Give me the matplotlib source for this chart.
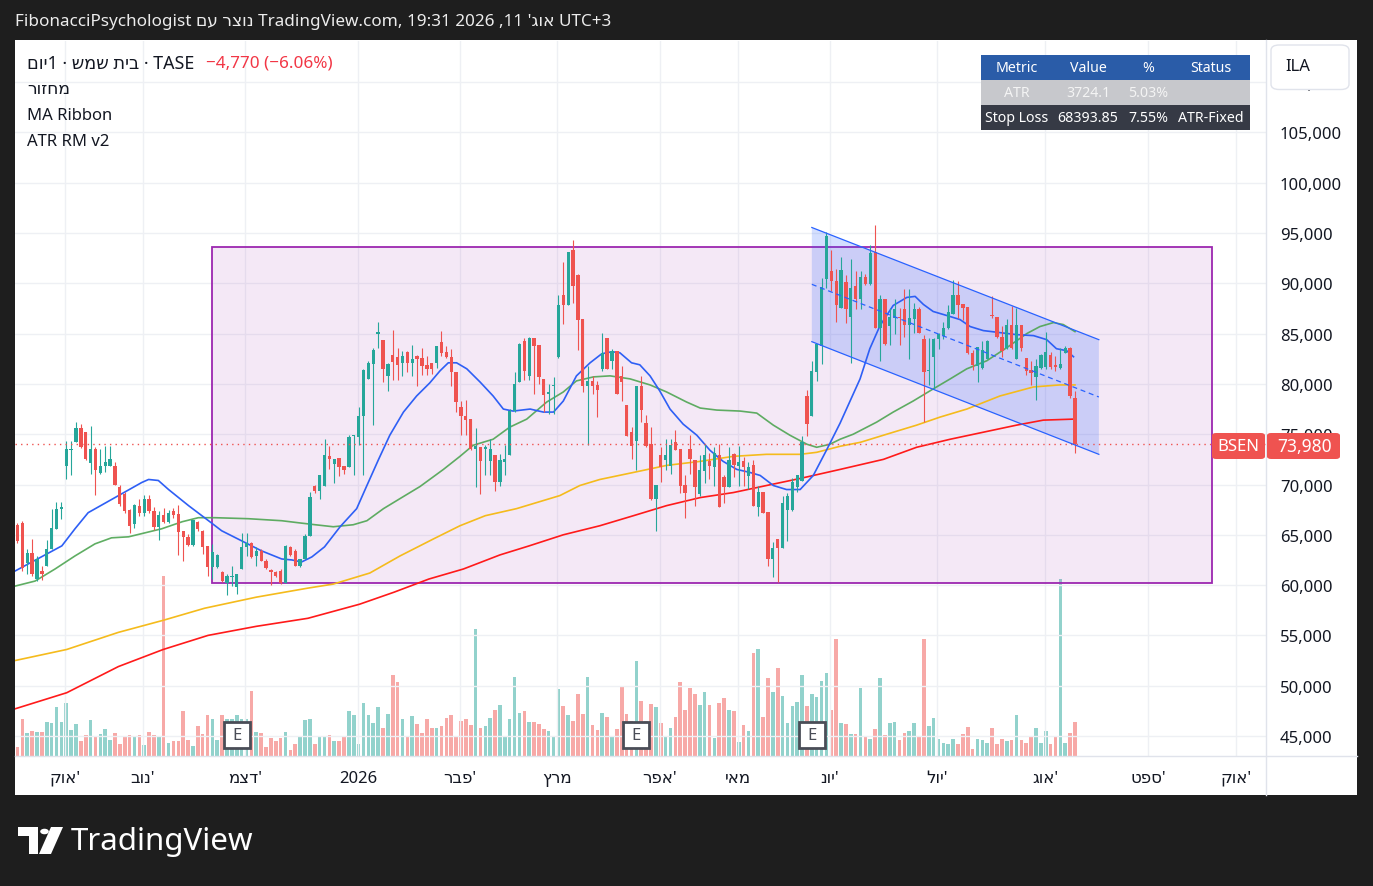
import matplotlib
matplotlib.use("Agg")
import matplotlib.pyplot as plt
import matplotlib.transforms as mtransforms
from matplotlib.patches import Rectangle, FancyBboxPatch, Polygon, Circle
from matplotlib.lines import Line2D
import numpy as np

FONT = ["Noto Sans", "DejaVu Sans"]
plt.rcParams["font.family"] = FONT

W, H, DPI = 1373, 887, 100

# daily candles, price in thousands
opens = [66.0, 66.2, 62.2, 63.2, 60.6, 61.4, 61.9, 63.6, 65.6, 67.6,
         71.8, 73.4, 74.2, 75.6, 75.2, 72.1, 73.5, 71.1, 71.8, 71.8,
         71.8, 69.8, 69.1, 67.5, 66.1, 67.9, 67.2, 68.6, 67.4, 65.8,
         67.0, 66.3, 67.4, 67.1, 65.4, 64.8, 64.0, 66.3, 65.4, 63.9,
         61.8, 61.8, 61.3, 60.2, 60.8, 59.8, 61.6, 63.8, 64.2, 62.9,
         63.4, 62.4, 61.5, 61.3, 61.4, 60.2, 63.8, 63.4, 61.9, 62.6,
         64.9, 69.9, 69.4, 69.9, 72.8, 72.0, 72.6, 71.8, 71.7, 74.8,
         74.7, 76.8, 80.5, 82.0, 85.0, 84.4, 80.8, 82.9, 82.7, 82.1,
         83.2, 82.1, 82.8, 82.6, 81.9, 82.1, 82.1, 84.2, 83.2, 82.7,
         81.2, 77.7, 76.8, 76.5, 73.5, 73.7, 73.5, 72.3, 72.9, 70.2,
         72.2, 72.9, 77.3, 80.2, 84.3, 80.8, 84.6, 83.9, 80.5, 79.0,
         79.8, 82.7, 88.8, 87.8, 93.3, 90.8, 86.5, 79.8, 80.3, 79.9,
         81.5, 84.6, 82.3, 83.3, 80.8, 77.9, 75.2, 74.3, 79.8, 76.1,
         74.0, 68.6, 72.9, 72.4, 71.8, 74.2, 73.5, 70.0, 73.5, 72.4,
         69.1, 71.3, 72.3, 71.7, 72.9, 70.7, 69.8, 73.0, 71.8, 72.3,
         70.8, 71.9, 67.8, 69.3, 67.3, 62.6, 64.6, 63.7, 67.5, 67.5,
         69.8, 70.3, 78.8, 76.8, 81.2, 83.8, 90.4, 91.2, 90.2, 87.5,
         90.1, 86.7, 89.7, 88.4, 90.6, 89.9, 93.1, 85.6, 88.4, 85.8,
         86.6, 86.7, 87.4, 85.9, 86.5, 87.4, 84.5, 81.3, 82.7, 84.5,
         84.8, 85.6, 87.0, 88.8, 87.9, 87.6, 83.1, 81.8, 81.6, 82.5,
         86.9, 86.7, 84.7, 83.6, 85.9, 82.5, 85.9, 82.6, 81.4, 80.7,
         81.6, 81.7, 82.9, 81.9, 81.6, 83.1, 83.6, 78.6]
highs = [66.2, 66.4, 63.6, 64.6, 62.9, 61.9, 64.5, 67.6, 68.3, 68.3,
         74.3, 74.3, 76.2, 76.0, 75.2, 75.8, 73.7, 73.5, 73.8, 73.8,
         72.2, 70.0, 69.3, 67.6, 68.1, 68.6, 69.0, 69.0, 67.8, 67.4,
         67.7, 67.5, 67.7, 68.0, 65.4, 65.1, 66.5, 66.4, 65.5, 63.9,
         64.1, 63.1, 61.4, 61.1, 61.9, 61.1, 65.2, 65.2, 64.3, 63.8,
         63.6, 62.6, 61.6, 61.4, 61.6, 64.0, 63.9, 63.6, 62.6, 65.1,
         69.3, 70.0, 70.9, 74.5, 73.8, 72.5, 72.6, 71.8, 74.9, 74.9,
         77.7, 81.5, 82.3, 83.6, 86.2, 84.4, 82.1, 85.4, 83.6, 83.3,
         83.3, 83.9, 82.9, 83.6, 82.8, 82.1, 83.8, 85.3, 83.8, 83.5,
         81.2, 78.3, 78.4, 76.5, 75.6, 73.7, 73.9, 74.5, 72.9, 73.0,
         73.9, 77.5, 81.2, 84.1, 84.6, 84.7, 84.6, 83.9, 80.5, 80.0,
         80.7, 88.8, 92.1, 93.1, 94.3, 90.9, 86.5, 81.8, 80.8, 80.3,
         85.1, 84.6, 83.5, 83.3, 81.8, 77.9, 75.7, 79.8, 80.8, 76.9,
         75.7, 70.0, 73.7, 74.5, 74.5, 75.4, 73.5, 70.9, 74.9, 72.4,
         72.9, 74.0, 73.1, 73.7, 74.0, 70.9, 73.7, 73.1, 73.8, 72.7,
         72.2, 72.4, 69.9, 69.3, 67.3, 64.3, 64.6, 68.9, 69.2, 70.6,
         70.9, 74.8, 79.4, 82.3, 84.0, 90.5, 95.1, 93.3, 91.4, 92.6,
         90.8, 92.4, 91.2, 91.2, 90.9, 93.8, 95.8, 88.8, 88.4, 87.5,
         88.4, 87.5, 89.4, 89.4, 88.0, 87.6, 84.9, 84.6, 84.6, 85.1,
         86.2, 87.8, 90.3, 90.2, 87.9, 87.6, 83.4, 83.7, 84.3, 84.4,
         88.7, 86.7, 85.8, 86.5, 87.7, 87.5, 85.9, 82.6, 82.3, 82.5,
         83.0, 85.2, 83.2, 82.8, 83.6, 83.8, 83.7, 79.3]
lows = [64.2, 61.4, 61.1, 60.9, 60.4, 60.5, 61.9, 63.6, 65.6, 66.6,
        70.5, 70.9, 74.2, 73.6, 72.4, 71.0, 69.0, 71.0, 71.2, 71.8,
        70.0, 67.9, 67.2, 65.2, 65.7, 66.9, 66.9, 67.2, 65.5, 64.5,
        66.2, 66.2, 66.7, 63.0, 62.4, 63.9, 63.9, 65.4, 63.1, 60.9,
        60.6, 61.7, 60.3, 59.0, 59.9, 59.1, 61.6, 62.9, 62.7, 61.9,
        62.4, 61.6, 60.0, 60.8, 60.1, 60.2, 62.9, 61.9, 61.8, 62.6,
        64.9, 69.2, 68.6, 69.9, 71.5, 70.1, 70.8, 71.0, 71.7, 70.9,
        73.9, 70.9, 80.5, 75.9, 83.6, 80.2, 79.3, 80.4, 80.4, 80.8,
        81.2, 80.8, 79.8, 80.9, 80.9, 81.0, 81.6, 82.8, 82.6, 79.8,
        77.2, 74.9, 74.9, 73.4, 69.8, 69.1, 70.9, 70.9, 69.4, 69.9,
        70.9, 72.9, 77.2, 80.2, 80.4, 80.4, 79.0, 80.0, 77.2, 77.0,
        77.0, 82.6, 86.0, 87.8, 88.0, 83.4, 79.2, 73.9, 79.0, 76.7,
        81.3, 81.5, 81.5, 79.0, 78.3, 74.8, 72.5, 71.4, 76.2, 73.7,
        68.5, 65.4, 70.2, 71.4, 71.0, 73.4, 69.2, 66.7, 71.0, 67.9,
        68.9, 70.1, 70.5, 69.9, 67.8, 68.2, 69.8, 70.7, 69.9, 69.9,
        69.6, 67.9, 66.9, 67.2, 61.9, 60.8, 60.3, 63.7, 64.4, 67.4,
        69.3, 70.3, 74.8, 76.8, 80.3, 82.0, 89.5, 89.2, 86.2, 87.5,
        86.1, 82.1, 87.4, 87.4, 89.8, 89.8, 85.6, 82.3, 83.9, 83.9,
        85.0, 83.9, 84.7, 82.5, 85.1, 85.1, 76.2, 79.9, 79.5, 83.5,
        84.5, 85.5, 87.0, 86.6, 86.4, 83.0, 81.4, 80.2, 81.5, 82.5,
        86.6, 84.6, 82.7, 83.5, 83.5, 82.5, 83.3, 80.9, 79.9, 78.4,
        81.5, 81.5, 81.5, 81.3, 81.5, 83.1, 78.6, 73.1]
closes = [64.4, 61.7, 63.2, 61.1, 62.6, 61.1, 63.6, 65.7, 67.6, 67.8,
          73.5, 73.5, 75.6, 73.7, 72.5, 73.5, 71.4, 71.8, 72.2, 72.5,
          70.0, 68.1, 67.4, 65.9, 68.0, 67.2, 68.6, 67.4, 65.8, 67.0,
          66.3, 67.2, 67.0, 65.3, 64.8, 64.0, 66.5, 65.6, 63.8, 61.8,
          63.3, 63.0, 60.4, 60.9, 60.9, 61.1, 63.8, 64.2, 62.8, 63.4,
          62.4, 61.7, 61.3, 60.9, 60.2, 63.9, 63.0, 61.9, 62.6, 64.9,
          68.8, 69.4, 70.9, 72.9, 72.5, 72.5, 71.7, 71.4, 74.7, 74.9,
          76.8, 81.4, 82.1, 83.4, 85.2, 81.5, 82.0, 82.2, 81.9, 82.8,
          82.1, 82.5, 82.5, 81.8, 81.5, 81.5, 83.8, 83.1, 82.7, 81.2,
          78.2, 76.8, 76.4, 73.5, 73.8, 72.3, 73.7, 73.5, 70.2, 72.4,
          72.5, 77.3, 80.0, 84.0, 81.3, 84.6, 83.8, 80.7, 78.9, 79.2,
          79.9, 87.8, 87.8, 93.1, 89.7, 86.4, 79.8, 80.3, 79.8, 79.4,
          83.1, 81.5, 83.3, 79.0, 80.2, 74.8, 73.8, 79.8, 77.4, 73.8,
          68.6, 70.0, 71.7, 72.9, 73.9, 73.4, 69.9, 69.2, 72.5, 69.8,
          71.4, 72.9, 71.8, 73.1, 67.8, 69.8, 72.4, 71.9, 72.2, 71.7,
          71.7, 67.9, 69.3, 67.2, 62.6, 63.7, 63.7, 68.2, 68.9, 70.2,
          70.9, 74.2, 76.0, 81.3, 84.0, 89.6, 94.7, 90.2, 87.8, 91.3,
          87.4, 89.5, 88.4, 90.6, 89.9, 93.0, 85.6, 88.4, 84.0, 86.7,
          87.4, 86.6, 85.9, 86.6, 87.4, 85.1, 81.2, 81.4, 84.5, 85.0,
          85.6, 87.1, 88.8, 87.8, 87.5, 83.1, 81.9, 83.7, 83.4, 84.3,
          86.8, 84.7, 83.3, 85.9, 83.6, 85.9, 83.6, 81.3, 81.1, 81.8,
          82.9, 83.2, 81.7, 81.7, 82.0, 83.6, 78.75, 73.98]
volumes = [90, 367, 227, 250, 240, 240, 340, 323, 480, 340,
           520, 260, 320, 150, 210, 360, 190, 217, 270, 160,
           230, 120, 190, 210, 190, 210, 110, 240, 210, 200,
           1783, 130, 150, 150, 440, 160, 100, 300, 220, 410,
           370, 160, 410, 370, 370, 410, 370, 370, 640, 240,
           227, 93, 180, 150, 180, 240, 60, 120, 190, 360,
           370, 120, 200, 200, 210, 150, 150, 200, 440, 410,
           120, 520, 410, 330, 480, 280, 420, 800, 730, 370,
           200, 400, 320, 230, 370, 280, 280, 300, 380, 410,
           200, 350, 370, 310, 1260, 280, 300, 380, 450, 500,
           200, 370, 780, 430, 440, 340, 340, 320, 270, 250,
           200, 660, 490, 410, 350, 610, 420, 780, 310, 260,
           430, 390, 200, 270, 680, 420, 350, 940, 540, 350,
           510, 480, 330, 190, 280, 390, 730, 450, 670, 610,
           500, 630, 500, 180, 520, 570, 450, 440, 140, 310,
           250, 1020, 1060, 390, 770, 630, 870, 590, 330, 490,
           530, 800, 490, 610, 580, 740, 820, 450, 1160, 330,
           320, 220, 220, 670, 190, 170, 270, 770, 210, 330,
           340, 160, 230, 250, 330, 200, 1160, 300, 380, 170,
           130, 120, 170, 120, 220, 290, 70, 170, 160, 130,
           280, 120, 170, 150, 160, 410, 160, 130, 200, 280,
           130, 250, 120, 200, 1750, 130, 230, 340]

# MA Ribbon at bar positions
ma_fast_x = [-0.5, 9.1, 11.8, 14.5, 20.0, 25.5, 26.9, 28.9, 31.0, 35.1, 39.2, 41.9, 46.0, 50.1,
             54.2, 56.3, 58.3, 60.4, 63.0, 66.2, 69.6, 71.7, 74.1, 76.4, 79.2, 81.9, 84.6, 86.7,
             88.4, 90.1, 92.2, 94.9, 97.6, 99.7, 101.7, 105.2, 107.9, 110.0, 112.0, 114.7, 117.5,
             119.9, 122.0, 123.6, 126.0, 127.7, 129.8, 131.8, 133.9, 136.6, 139.4, 142.1, 144.8,
             147.6, 150.3, 152.4, 155.1, 157.8, 160.6, 163.3, 166.1, 168.8, 172.9, 174.9, 177.0,
             179.7, 182.5, 184.2, 185.9, 187.9, 190.7, 193.4, 195.5, 198.2, 201.6, 205.0, 208.5,
             211.2, 213.2, 215.3, 216.7]
ma_fast = [61.4, 63.9, 65.6, 67.2, 68.7, 70.2, 70.5, 70.4, 69.5, 67.9, 66.4, 65.4, 64.4, 63.4,
           62.6, 62.5, 62.3, 62.8, 63.8, 65.8, 67.6, 69.9, 72.5, 74.9, 77.2, 78.8, 80.1, 81.3,
           82.1, 82.1, 81.5, 80.2, 78.8, 77.5, 77.3, 77.5, 77.2, 77.2, 78.3, 80.8, 82.1,
           83.0, 83.2, 83.1, 82.1, 81.9, 80.8, 79.3, 77.5, 76.0, 74.9, 73.4, 72.3,
           71.5, 71.2, 70.9, 69.9, 69.5, 69.5, 70.9, 73.5, 76.1, 80.5, 83.5, 85.8,
           87.8, 88.6, 88.7, 87.9, 87.2, 86.8, 86.4, 85.7, 85.3, 85.1, 84.9, 84.8,
           84.4, 83.5, 83.3, 82.7]
ma_mid_x = [-0.5, 3.6, 7.7, 11.8, 15.9, 19.3, 22.8, 26.2, 29.6, 33.8, 37.1, 40.5, 47.4, 54.2,
            57.6, 61.1, 64.8, 68.9, 71.7, 75.1, 78.5, 82.6, 87.4, 90.8, 93.5, 97.6, 101.0, 104.5,
            108.6, 112.0, 114.7, 118.2, 121.6, 125.7, 129.8, 133.2, 137.3, 140.1, 143.5, 148.3,
            151.7, 155.1, 158.5, 162.0, 164.0, 166.7, 168.8, 171.5, 176.3, 179.7, 183.8, 187.9,
            191.4, 194.8, 198.9, 203.0, 207.1, 209.8, 212.6, 214.6, 217.0]
ma_mid = [59.9, 60.4, 61.6, 62.9, 64.1, 64.7, 64.8, 65.2, 65.6, 66.3, 66.7, 66.7, 66.6, 66.4,
          66.2, 66.0, 65.8, 66.0, 66.4, 67.6, 68.6, 69.8, 71.5, 72.8, 73.9, 74.5, 75.7, 76.5,
          78.2, 79.2, 80.3, 80.7, 80.8, 80.5, 79.9, 79.2, 78.2, 77.6, 77.4, 77.3,
          77.1, 75.9, 74.9, 74.0, 73.7, 74.0, 74.5, 75.0, 76.2, 77.2, 78.3, 79.5,
          80.5, 81.5, 82.3, 83.6, 85.0, 85.7, 86.1, 85.9, 85.2]
ma_slow_x = [-0.5, 10.1, 20.7, 29.9, 38.4, 49.0, 59.6, 64.8, 72.3, 78.5, 85.4, 90.8, 96.0, 102.4,
             111.3, 115.4, 119.5, 126.4, 133.2, 140.1, 146.9, 153.7, 160.6, 164.0, 168.8, 173.0,
             177.7, 184.5, 189.3, 194.8, 201.6, 208.5, 213.9, 217.0]
ma_slow = [52.5, 53.6, 55.3, 56.5, 57.7, 58.8, 59.7, 60.1, 61.2, 62.9, 64.6, 65.9, 66.9, 67.6,
           68.9, 69.9, 70.5, 71.2, 71.9, 72.3, 72.8, 73.0, 73.0, 73.2, 73.8, 74.2,
           74.9, 75.9, 76.7, 77.5, 78.8, 79.7, 79.9, 79.9]
ma_long_x = [-0.5, 10.1, 20.7, 29.9, 39.1, 49.0, 59.6, 70.2, 77.3, 84.4, 91.5, 99.0, 105.0, 112.0,
             119.5, 126.4, 133.2, 140.1, 146.9, 153.7, 160.6, 168.8, 177.7, 184.5, 191.4, 198.2,
             205.0, 210.5, 216.7]
ma_long = [47.7, 49.3, 51.9, 53.6, 55.0, 55.9, 56.7, 58.1, 59.3, 60.6, 61.6, 63.0, 63.9, 65.0,
           65.9, 66.9, 67.9, 68.7, 69.2, 69.9, 70.6, 71.5, 72.5, 73.7, 74.5, 75.2,
           75.9, 76.4, 76.5]

# drawings on the chart
range_box_x = [39.9, 245.1]
range_box_y = [60.2, 93.6]
channel_x = [163.0, 221.9]
channel_top = [95.55, 84.4]
channel_mid = [89.9, 78.7]
channel_bot = [84.2, 73.0]
earnings_bars = [45, 127, 163]

month_pos = [9.75, 25.75, 46.7, 69.9, 90.8, 110.7, 131.85, 147.85, 166.7, 188.7, 210.9, 232.0, 250.1]
month_names = ["אוק'", "נוב'", "דצמ'", "2026", "פבר'", "מרץ", "אפר'", "מאי", "יונ'", "יול'", "אוג'", "ספט'", "אוק'"]
price_ticks = list(range(45, 111, 5))

table_head = ["Metric", "Value", "%", "Status"]
table_atr = ["ATR", "3724.1", "5.03%", ""]
table_stop = ["Stop Loss", "68393.85", "7.55%", "ATR-Fixed"]


def visual(s):
    # matplotlib has no bidi: put Hebrew words in display order
    if any("\u0590" <= ch <= "\u05ff" for ch in s):
        if s.endswith("'"):
            return s[:-1][::-1] + "'"
        return s[::-1]
    return s


UP, DOWN = "#26a69a", "#ef5350"
TXT = "#131722"

fig = plt.figure(figsize=(W / DPI, H / DPI), dpi=DPI, facecolor="#1e1e1e")


def px_rect(x0, y0, x1, y1, **kw):
    r = Rectangle((x0 / W, 1 - y1 / H), (x1 - x0) / W, (y1 - y0) / H,
                  transform=fig.transFigure, **kw)
    fig.patches.append(r)
    return r


def px_text(x, y, s, **kw):
    return fig.text(x / W, 1 - y / H, s, **kw)


def px_line(x0, y0, x1, y1, **kw):
    fig.lines.append(Line2D([x0 / W, x1 / W], [1 - y0 / H, 1 - y1 / H],
                            transform=fig.transFigure, **kw))


# white chart panel
px_rect(15, 41, 1357, 796, facecolor="white", edgecolor="none", zorder=-5)

L, R, T, B = 15, 1266, 42, 757
pos = [L / W, 1 - B / H, (R - L) / W, (B - T) / H]
axv = fig.add_axes(pos, zorder=1)
ax = fig.add_axes(pos, zorder=2)
ax.patch.set_alpha(0)

n = len(closes)
x = np.arange(n)
o = np.array(opens)
c = np.array(closes)
hi = np.maximum.reduce([np.array(highs), o, c])
lo = np.minimum.reduce([np.array(lows), o, c])
up = c >= o
cols = np.where(up, UP, DOWN)

xlim = (-0.513, 256.2)

# volume
axv.set_xlim(*xlim)
axv.set_ylim(0, 7069)
axv.bar(x, volumes, width=0.74, color=np.where(up, "#92d2cc", "#f7a9a7"), linewidth=0)
axv.axis("off")

# price pane
ax.set_xlim(*xlim)
ax.set_ylim(43.01, 114.09)
for s in ax.spines.values():
    s.set_visible(False)
ax.set_xticks(month_pos)
ax.set_xticklabels([visual(m) for m in month_names])
ax.set_yticks(price_ticks)
ax.set_yticklabels([f"{t * 1000:,}" for t in price_ticks])
ax.yaxis.tick_right()
ax.tick_params(axis="y", length=0, pad=10, labelsize=12, labelcolor=TXT)
ax.tick_params(axis="x", length=0, pad=10, labelsize=12, labelcolor=TXT)
for lab in ax.get_xticklabels():
    if lab.get_text() == "2026":
        lab.set_fontweight("bold")
ax.grid(True, color="#eef0f4", lw=1)
ax.set_axisbelow(True)

ax.add_patch(Rectangle((range_box_x[0], range_box_y[0]), range_box_x[1] - range_box_x[0],
                       range_box_y[1] - range_box_y[0], facecolor="#9c27b0", alpha=0.1,
                       edgecolor="none", zorder=1))
ax.add_patch(Rectangle((range_box_x[0], range_box_y[0]), range_box_x[1] - range_box_x[0],
                       range_box_y[1] - range_box_y[0], facecolor="none",
                       edgecolor="#9c27b0", lw=1.3, zorder=1.1))

ax.add_patch(Polygon([(channel_x[0], channel_top[0]), (channel_x[1], channel_top[1]),
                      (channel_x[1], channel_bot[1]), (channel_x[0], channel_bot[0])],
                     closed=True, facecolor="#2962ff", alpha=0.2, edgecolor="none", zorder=1.5))
ax.plot(channel_x, channel_top, color="#2962ff", lw=0.9, zorder=5)
ax.plot(channel_x, channel_bot, color="#2962ff", lw=0.9, zorder=5)
ax.plot(channel_x, channel_mid, color="#2962ff", lw=0.9, ls=(0, (4, 3)), zorder=5)

ax.plot(ma_long_x, ma_long, color="#ff1a1a", lw=1.2, zorder=3)
ax.plot(ma_slow_x, ma_slow, color="#f5bb1c", lw=1.2, zorder=3)
ax.plot(ma_mid_x, ma_mid, color="#4ea552", lw=1.2, alpha=0.9, zorder=3)
ax.plot(ma_fast_x, ma_fast, color="#2e5ff5", lw=1.2, zorder=3)

ax.vlines(x, lo, hi, colors=cols, lw=0.8, zorder=4)
ax.bar(x, np.maximum(np.abs(c - o), 0.1), bottom=np.minimum(o, c), width=0.68,
       color=cols, linewidth=0, zorder=4)

ax.axhline(c[-1], color=DOWN, lw=1, ls=(0, (1, 3)), zorder=4.5)

# earnings badges
blend = mtransforms.blended_transform_factory(ax.transData, ax.transAxes)
for e in earnings_bars:
    ax.plot([e], [0.0294], transform=blend, marker="s", ms=19, mfc="white",
            mec="#4a4d57", mew=2.0, zorder=6, clip_on=False)
    ax.text(e, 0.0294, "E", transform=blend, ha="center", va="center", fontsize=12,
            fontweight="bold", color="#4a4d57", zorder=7)

# separators
px_line(1266, 41, 1266, 796, color="#e0e3eb", lw=1, zorder=3)
px_line(15, 757, 1357, 757, color="#e0e3eb", lw=1, zorder=3)

# currency box on price scale (hides most of the 110,000 label)
fig.patches.append(FancyBboxPatch((1271 / W, 1 - 90.5 / H), 78 / W, 44.5 / H,
                                  boxstyle="round,pad=0,rounding_size=0.006",
                                  transform=fig.transFigure, facecolor="white",
                                  edgecolor="#e0e3eb", lw=1, zorder=5))
px_text(1285, 67, "ILA", fontsize=12, color=TXT, va="center", zorder=6)

# last price labels
fig.patches.append(FancyBboxPatch((1212 / W, 1 - 460 / H), 53 / W, 26 / H,
                                  boxstyle="round,pad=0,rounding_size=0.003",
                                  transform=fig.transFigure, facecolor=DOWN,
                                  edgecolor="none", zorder=5))
fig.patches.append(FancyBboxPatch((1267 / W, 1 - 460 / H), 73 / W, 26 / H,
                                  boxstyle="round,pad=0,rounding_size=0.003",
                                  transform=fig.transFigure, facecolor=DOWN,
                                  edgecolor="none", zorder=5))
px_text(1238.5, 447, "BSEN", fontsize=12, color="white", ha="center", va="center", zorder=6)
px_text(1305, 447, f"{c[-1] * 1000:,.0f}", fontsize=12.5, color="white", ha="center",
        va="center", zorder=6)

# header
header = ("FibonacciPsychologist " + visual("עם") + " " + visual("נוצר")
          + " TradingView.com, 19:31 2026 ,11 '" + visual("אוג") + " UTC+3")
px_text(15, 22, header, fontsize=12.3, color="#ececec", va="center")

# legend
leg1 = visual("יום") + "1 · " + visual("שמש") + " " + visual("בית") + " · TASE"
t1 = px_text(27, 64, leg1, fontsize=12.8, color=TXT, va="center")
renderer = fig.canvas.get_renderer()
bb = t1.get_window_extent(renderer=renderer)
fig.text((bb.x1 + 12) / W, 1 - 64 / H, "\u22124,770 (\u22126.06%)", fontsize=12.3,
         color="#f23645", va="center")
px_text(27, 90, visual("מחזור"), fontsize=12.3, color=TXT, va="center")
px_text(27, 116, "MA Ribbon", fontsize=12, color=TXT, va="center")
px_text(27, 142, "ATR RM v2", fontsize=12, color=TXT, va="center")

# ATR table
col_edges = [981, 1052, 1124, 1172, 1250]
row_edges = [56, 81, 106, 131]
row_bg = ["#2a5ca8", "#c7c8cc", "#363a45"]
row_fg = ["white", "#f4f4f4", "white"]
for r, row in enumerate([table_head, table_atr, table_stop]):
    px_rect(col_edges[0], row_edges[r], col_edges[-1], row_edges[r + 1],
            facecolor=row_bg[r], edgecolor="none", zorder=5)
    for k, val in enumerate(row):
        cx = (col_edges[k] + col_edges[k + 1]) / 2
        cy = (row_edges[r] + row_edges[r + 1]) / 2
        px_text(cx, cy, val, fontsize=10.2, color=row_fg[r], ha="center", va="center",
                fontweight="bold" if r == 0 else "normal", zorder=6)

# TradingView logo
logo = [[(18, 828), (38, 828), (38, 855), (29, 855), (29, 837), (18, 837)],
        [(51, 828), (63, 828), (51, 855), (39, 855)]]
for pts in logo:
    fig.patches.append(Polygon([(a / W, 1 - b / H) for a, b in pts], closed=True,
                               transform=fig.transFigure, facecolor="white",
                               edgecolor="none"))
fig.patches.append(Circle((44.5 / W, 1 - 832.5 / H), 4.3 / W, transform=fig.transFigure,
                          facecolor="white", edgecolor="none"))
px_text(71, 842, "TradingView", fontsize=22.5, fontweight="bold", color="white", va="center")

fig.savefig("out.png", dpi=DPI, facecolor=fig.get_facecolor())
